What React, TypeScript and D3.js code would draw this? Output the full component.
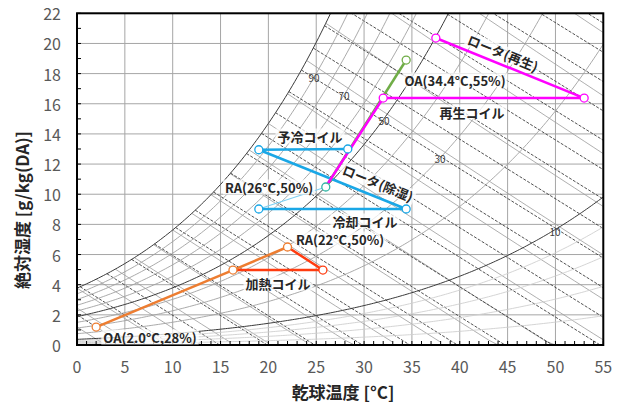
import React, { useLayoutEffect, useRef, useState } from 'react';
import * as d3 from 'd3';

// ---------- data ----------
const xTicks = [0, 5, 10, 15, 20, 25, 30, 35, 40, 45, 50, 55];
const yTicks = [0, 2, 4, 6, 8, 10, 12, 14, 16, 18, 20, 22];
const rhLevels = [2, 4, 6, 8, 10, 20, 30, 40, 50, 60, 70, 80, 90, 100];
const rhDark = [10, 50, 100];
const rhLight = [2, 4, 6, 8];
const rhLabelTexts = ['90', '70', '50', '30', '10'];
const enthalpyLevels = [5, 10, 15, 20, 25, 30, 35, 40, 45, 50, 55, 60, 65, 70, 75, 80, 85, 90, 95, 100, 105, 110, 115, 120];
const wetBulbLevels = [-4, -2, 0, 2, 4, 6, 8, 10, 12, 14, 16, 18, 20, 22, 24, 26, 28, 30, 32, 34, 36, 38, 40, 42, 44];

// process points [dry-bulb °C, abs. humidity g/kg]
const heatingMix: [number, number][] = [[2.0, 1.19], [16.3, 4.97], [22.0, 6.5]];
const heatingCoil: [number, number][] = [[16.3, 4.97], [25.7, 4.97], [22.0, 6.5]];
const coolingPath: [number, number][] = [[28.3, 13.0], [19.0, 12.95], [34.4, 9.02], [19.0, 9.02]];
const coolingReturn: [number, number][] = [[19.0, 9.02], [26.0, 10.48]];
const outdoorSummer: [number, number][] = [[26.0, 10.48], [34.4, 18.9]];
const regenPath: [number, number][] = [[26.0, 10.5], [32.0, 16.38], [53.0, 16.38], [37.5, 20.36]];

// ---------- psychrometrics ----------
const P = 101.325;
const ps = (t: number) => 0.61078 * Math.exp((17.27 * t) / (t + 237.3));
const wRH = (t: number, phi: number) => (622 * phi * ps(t)) / (P - phi * ps(t));
const wH = (h: number, t: number) => (1000 * (h - 1.006 * t)) / (2501 + 1.86 * t);
const wWB = (twb: number, t: number) => {
  const Ws = wRH(twb, 1) / 1000;
  return (1000 * ((2501 - 2.326 * twb) * Ws - 1.006 * (t - twb))) / (2501 + 1.86 * t - 4.186 * twb);
};
const satT = (f: (t: number) => number) => {
  let lo = -30, hi = 80;
  for (let i = 0; i < 60; i++) {
    const m = (lo + hi) / 2;
    if (f(m) > wRH(m, 1)) lo = m; else hi = m;
  }
  return (lo + hi) / 2;
};

// ---------- layout ----------
const W = 622, H = 403;
const L = 77, R = 603.3, T = 13.3, B = 345;
const x = d3.scaleLinear().domain([0, 55]).range([L, R]);
const y = d3.scaleLinear().domain([0, 22]).range([B, T]);
const line = d3.line<[number, number]>().x(d => x(d[0])).y(d => y(d[1]));

const FONT = '"Noto Sans CJK JP", "Noto Sans", sans-serif';

function rhPath(phi: number) {
  const pts: [number, number][] = d3.range(0, 55.01, 0.25).map(t => [t, wRH(t, phi / 100)] as [number, number]);
  return line(pts) || '';
}
function hPath(h: number) {
  const t0 = satT(t => wH(h, t));
  const t1 = h / 1.006;
  const pts: [number, number][] = [[t0, wH(h, t0)], [t1, 0]];
  return line(pts) || '';
}
function wbPath(twb: number) {
  let t1 = twb;
  while (wWB(twb, t1) > 0 && t1 < 200) t1 += 0.5;
  const pts: [number, number][] = d3.range(twb, t1 + 0.01, 1).map(t => [t, Math.max(0, wWB(twb, t))] as [number, number]);
  return line(pts) || '';
}

type LabelProps = { x: number; y: number; text: string; rotate?: number; size?: number; weight?: number; bg?: boolean; color?: string };
function Label({ x: lx, y: ly, text, rotate = 0, size = 13, weight = 700, bg = true, color = '#262626' }: LabelProps) {
  const ref = useRef<SVGTextElement>(null);
  const [bb, setBB] = useState<{ x: number; y: number; width: number; height: number } | null>(null);
  useLayoutEffect(() => {
    if (ref.current) {
      const b = ref.current.getBBox();
      setBB({ x: b.x, y: b.y, width: b.width, height: b.height });
    }
  }, [text]);
  return (
    <g transform={`translate(${lx},${ly}) rotate(${rotate})`}>
      {bg && bb && <rect x={bb.x - 2} y={bb.y + 2} width={bb.width + 4} height={bb.height - 4} fill="#fff" opacity={0.75} />}
      <text ref={ref} textAnchor="middle" dominantBaseline="central" fontFamily={FONT} fontSize={size} fontWeight={weight} fill={color}>{text}</text>
    </g>
  );
}

function Markers({ pts, color }: { pts: [number, number][]; color: string }) {
  return (
    <g>
      {pts.map((p, i) => (
        <circle key={i} cx={x(p[0])} cy={y(p[1])} r={4} fill="#fff" stroke={color} strokeWidth={1.3} />
      ))}
    </g>
  );
}

const rhLabelPos = [[314, 77], [344, 95], [384, 120], [440, 158], [555, 231]];

export default function App() {
  const minorX = d3.range(0, 56, 1);
  const minorY = d3.range(0, 23, 1);
  return (
    <svg width={W} height={H} style={{ position: 'absolute', left: 0, top: 0, background: '#fff' }}>
      <defs>
        <clipPath id="plot"><rect x={L} y={T} width={R - L} height={B - T} /></clipPath>
      </defs>
      <rect x={0} y={0} width={W} height={H} fill="#fff" />
      {/* grid */}
      <g stroke="#a6a6a6" strokeWidth={1}>
        {xTicks.map(t => <line key={'gx' + t} x1={x(t)} x2={x(t)} y1={T} y2={B} />)}
        {yTicks.map(t => <line key={'gy' + t} x1={L} x2={R} y1={y(t)} y2={y(t)} />)}
      </g>
      <g clipPath="url(#plot)" fill="none">
        {wetBulbLevels.map(t => <path key={'wb' + t} d={wbPath(t)} stroke="#9a9a9a" strokeWidth={0.8} />)}
        {enthalpyLevels.map(h => <path key={'h' + h} d={hPath(h)} stroke="#333" strokeWidth={0.85} strokeDasharray="3,1.5" />)}
        {rhLevels.map(r => (
          <path key={'rh' + r} d={rhPath(r)}
            stroke={rhDark.includes(r) ? '#3a3a3a' : rhLight.includes(r) ? '#cfcfcf' : '#a0a0a0'}
            strokeWidth={rhDark.includes(r) ? 1 : 0.9} />
        ))}
      </g>
      {rhLabelTexts.map((t, i) => (
        <text key={'rl' + t} x={rhLabelPos[i][0]} y={rhLabelPos[i][1]} textAnchor="middle" dominantBaseline="central"
          fontFamily={FONT} fontSize={10} fill="#404040">{t}</text>
      ))}
      {/* axes */}
      <g stroke="#000" strokeWidth={1}>
        {minorX.map(t => <line key={'mx' + t} x1={x(t)} x2={x(t)} y1={B} y2={B - 4} />)}
        {minorY.map(t => <line key={'my' + t} x1={L} x2={L + 4} y1={y(t)} y2={y(t)} />)}
      </g>
      <rect x={L} y={T} width={R - L} height={B - T} fill="none" stroke="#000" strokeWidth={2} />
      {xTicks.map(t => (
        <text key={'xl' + t} x={x(t)} y={366} textAnchor="middle" dominantBaseline="central" fontFamily={FONT} fontSize={16} fill="#595959">{t}</text>
      ))}
      {yTicks.map(t => (
        <text key={'yl' + t} x={61} y={y(t)} textAnchor="end" dominantBaseline="central" fontFamily={FONT} fontSize={16} fill="#595959">{t}</text>
      ))}
      <text x={343} y={391} textAnchor="middle" dominantBaseline="central" fontFamily={FONT} fontSize={17} fontWeight={700} fill="#262626">乾球温度 [°C]</text>
      <text transform="translate(21,210) rotate(-90)" textAnchor="middle" dominantBaseline="central" fontFamily={FONT} fontSize={17} fontWeight={700} fill="#262626">絶対湿度 [g/kg(DA)]</text>

      {/* process lines */}
      <g fill="none" strokeLinejoin="round">
        <path d={line(coolingReturn) || ''} stroke="#7fd0f2" strokeWidth={1.2} />
        <path d={line(coolingPath) || ''} stroke="#1aa7e6" strokeWidth={2.5} />
        <path d={line(outdoorSummer) || ''} stroke="#70ad47" strokeWidth={2.5} />
        <path d={line(regenPath) || ''} stroke="#ff00ff" strokeWidth={2.5} />
        <path d={line(heatingCoil) || ''} stroke="#ff3b0f" strokeWidth={2.5} />
        <path d={line(heatingMix) || ''} stroke="#ed7d31" strokeWidth={2.5} />
      </g>
      <Markers pts={coolingPath} color="#1aa7e6" />
      <Markers pts={[outdoorSummer[1]]} color="#70ad47" />
      <Markers pts={regenPath.slice(1)} color="#ff00ff" />
      <Markers pts={[outdoorSummer[0]]} color="#35b5a5" />
      <Markers pts={[heatingCoil[1]]} color="#ff3b0f" />
      <Markers pts={heatingMix} color="#ed7d31" />

      {/* labels */}
      <Label x={503} y={53} rotate={22} text="ロータ(再生)" />
      <Label x={455} y={80} text="OA(34.4°C,55%)" />
      <Label x={472} y={112} text="再生コイル" />
      <Label x={310} y={136} text="予冷コイル" />
      <Label x={269} y={187} text="RA(26°C,50%)" />
      <Label x={378} y={183} rotate={22} text="ロータ(除湿)" />
      <Label x={365} y={221} text="冷却コイル" />
      <Label x={340} y={239} text="RA(22°C,50%)" />
      <Label x={278} y={283} text="加熱コイル" />
      <Label x={150} y={337} text="OA(2.0°C,28%)" />
    </svg>
  );
}
